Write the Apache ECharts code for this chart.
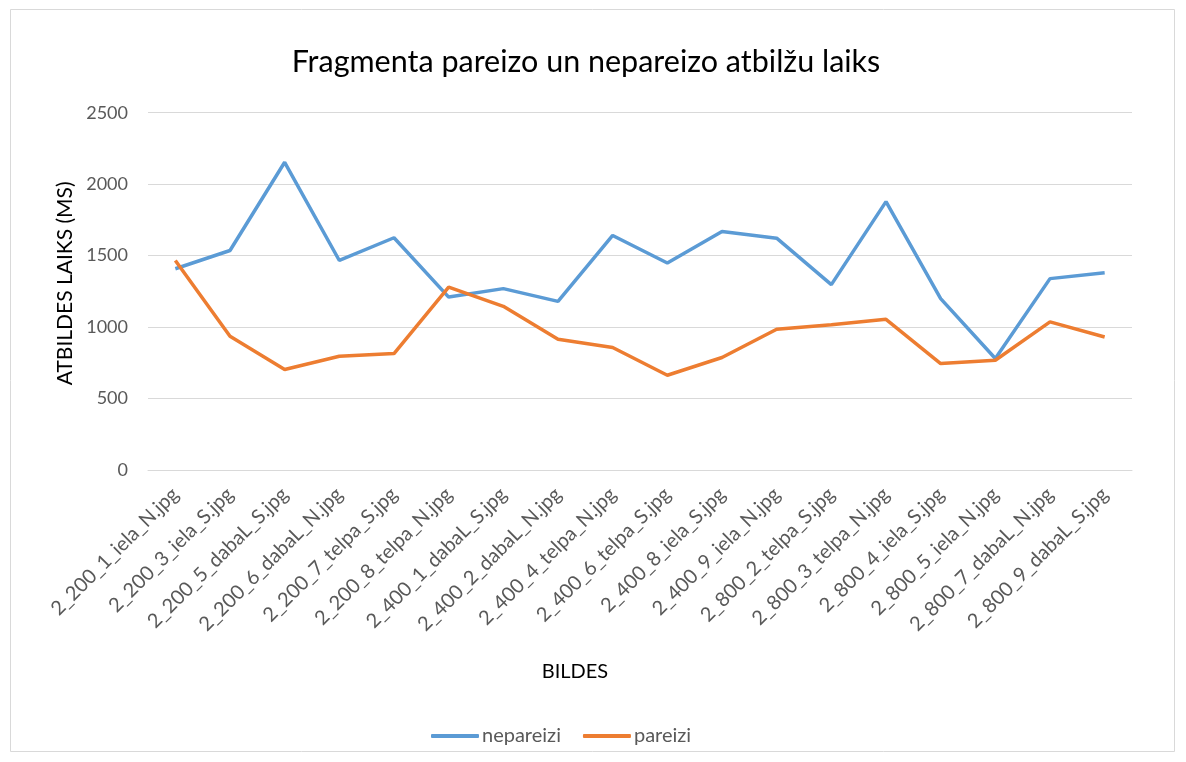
<!DOCTYPE html>
<html><head><meta charset="utf-8">
<script src="https://cdn.jsdelivr.net/npm/echarts@6/dist/echarts.min.js"></script>
<style>html,body{margin:0;padding:0;background:#fff;}#c{width:1186px;height:762px;}</style>
</head><body><div id="c"></div>
<script>
const categories = ["2_200_1_iela_N.jpg","2_200_3_iela_S.jpg","2_200_5_dabaL_S.jpg","2_200_6_dabaL_N.jpg","2_200_7_telpa_S.jpg","2_200_8_telpa_N.jpg","2_400_1_dabaL_S.jpg","2_400_2_dabaL_N.jpg","2_400_4_telpa_N.jpg","2_400_6_telpa_S.jpg","2_400_8_iela_S.jpg","2_400_9_iela_N.jpg","2_800_2_telpa_S.jpg","2_800_3_telpa_N.jpg","2_800_4_iela_S.jpg","2_800_5_iela_N.jpg","2_800_7_dabaL_N.jpg","2_800_9_dabaL_S.jpg"];
const nepareizi = [1408,1536,2153,1466,1625,1210,1269,1180,1641,1448,1669,1622,1297,1878,1199,780,1339,1380];
const pareizi = [1466,936,703,796,815,1280,1145,915,857,663,787,985,1017,1054,745,768,1036,931];
const yTicks = [0,500,1000,1500,2000,2500];

const FONT = 'Lato';
const chart = echarts.init(document.getElementById('c'), null, {renderer:'canvas'});
chart.setOption({
  backgroundColor:'#fff',
  animation:false,
  title:{text:'Fragmenta pareizo un nepareizo atbilžu laiks', left:581, textAlign:'center', top:42,
    textStyle:{fontFamily:FONT, fontSize:30.5, fontWeight:'normal', color:'#000'}},
  graphic:[{type:'rect', shape:{x:10.5,y:9.5,width:1164,height:742}, style:{fill:'none', stroke:'#d9d9d9', lineWidth:1}}],
  legend:{top:721, left:426, itemWidth:48, itemHeight:4, itemGap:22,
    data:[{name:'nepareizi', icon:'roundRect'},{name:'pareizi', icon:'roundRect'}],
    textStyle:{fontFamily:FONT, fontSize:20, color:'#595959', padding:[0,0,0,-2]}},
  grid:{left:148, right:54, top:112.7, bottom:292, containLabel:false},
  xAxis:{type:'category', data:categories, boundaryGap:true,
    name:'BILDES', nameLocation:'middle', nameGap:192,
    nameTextStyle:{fontFamily:FONT, fontSize:20, color:'#000', padding:[0,130,0,0]},
    axisLine:{show:true, lineStyle:{color:'#d9d9d9'}}, axisTick:{show:false},
    axisLabel:{rotate:45, interval:0, margin:21, fontFamily:FONT, fontSize:20, color:'#595959'}},
  yAxis:{type:'value', min:yTicks[0], max:yTicks[yTicks.length-1], interval:500,
    name:'ATBILDES LAIKS (MS)', nameLocation:'middle', nameGap:55,
    nameTextStyle:{fontFamily:FONT, fontSize:21, color:'#000', padding:[0,0,0,16]},
    axisLine:{show:false}, axisTick:{show:false},
    axisLabel:{margin:20, fontFamily:FONT, fontSize:18, color:'#595959', formatter:function(v){return String(v);}},
    splitLine:{lineStyle:{color:'#d9d9d9', width:1}}},
  series:[
    {name:'nepareizi', type:'line', data:nepareizi, symbol:'none', lineStyle:{color:'#5B9BD5', width:3.5}, itemStyle:{color:'#5B9BD5'}},
    {name:'pareizi', type:'line', data:pareizi, symbol:'none', lineStyle:{color:'#ED7D31', width:3.5}, itemStyle:{color:'#ED7D31'}}
  ]
});
</script></body></html>
